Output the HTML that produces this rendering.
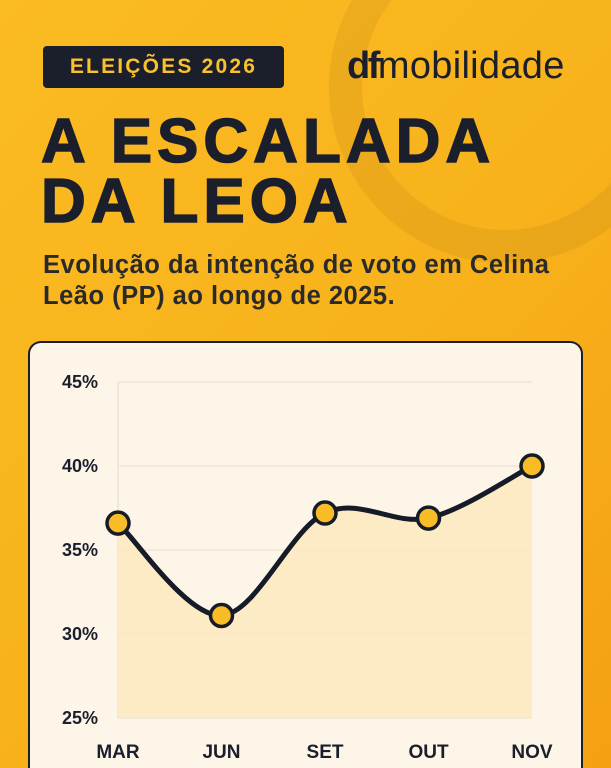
<!DOCTYPE html>
<html><head><meta charset="utf-8">
<style>
*{margin:0;padding:0;box-sizing:border-box}
html,body{width:611px;height:768px;overflow:hidden}
body{font-family:"Liberation Sans",sans-serif}
.wrap{position:absolute;left:0;top:0;width:611px;height:768px;overflow:hidden;background:linear-gradient(135deg,#fbbb22 0%,#f8b31c 50%,#f4a012 100%)}
.ring{position:absolute;left:329px;top:-89px;width:352px;height:352px;border-radius:50%;border:33px solid rgba(180,120,20,0.18)}
.badge{position:absolute;left:43px;top:46px;width:241px;height:42px;background:#1b1f2c;border-radius:4px;color:#f9c12c;font-weight:bold;font-size:21px;letter-spacing:2.2px;line-height:42px;text-align:center}
.logo{position:absolute;left:347px;top:45px;font-size:38px;color:#1b1f2c;letter-spacing:0.3px}
.logo b{font-weight:900;letter-spacing:-2.5px}
.title{position:absolute;left:41px;top:112px;font-size:62px;font-weight:bold;color:#1b1f2c;line-height:60px;letter-spacing:5px;-webkit-text-stroke:1.5px #1b1f2c}
.sub{position:absolute;left:43px;top:250px;font-size:25.5px;font-weight:bold;color:#2a2a2a;line-height:31px;width:580px;letter-spacing:0.5px}
.card{position:absolute;left:28px;top:341px;width:555px;height:450px;background:#fdf6e8;border:2.5px solid #1b1f2c;border-radius:13px}
svg{position:absolute;left:0;top:0}
</style></head>
<body>
<div class="wrap">
<div class="ring"></div>
<div class="badge">ELEIÇÕES 2026</div>
<div class="logo"><b>df</b>mobilidade</div>
<div class="title">A ESCALADA<br>DA LEOA</div>
<div class="sub">Evolução da intenção de voto em Celina<br>Leão (PP) ao longo de 2025.</div>
<div class="card"></div>
<svg id="chart" width="611" height="768"></svg>
</div>
<script>
const categories=["MAR","JUN","SET","OUT","NOV"];
const values=[36.6,31.1,37.2,36.9,40.0];
const yTicks=[25,30,35,40,45];
const yTickLabels=["25%","30%","35%","40%","45%"];
const NS="http://www.w3.org/2000/svg";
const svg=document.getElementById("chart");
const x0=118,x1=532,yTop=382,yBot=718;
function xs(i){return x0+(x1-x0)*i/(categories.length-1);}
function ys(v){return yBot-(v-25)/(45-25)*(yBot-yTop);}
function mk(t,a){const e=document.createElementNS(NS,t);for(const k in a)e.setAttribute(k,a[k]);svg.appendChild(e);return e;}
let ax=mk("line",{x1:x0,y1:yTop,x2:x0,y2:yBot,stroke:"#ece3d2","stroke-width":1.5});


yTicks.forEach((t,i)=>{
 const g=mk("line",{x1:x0,y1:ys(t),x2:x1,y2:ys(t),stroke:"#efe6d4","stroke-width":1.5});
 
 
 const l=mk("text",{x:98,y:ys(t)+6,"text-anchor":"end","font-size":18,"font-weight":"bold",fill:"#1b1f2c","font-family":"Liberation Sans, sans-serif"});
 l.textContent=yTickLabels[i];
 
 
});
categories.forEach((c,i)=>{
 const l=mk("text",{x:xs(i),y:758,"text-anchor":"middle","font-size":19,"font-weight":"bold",fill:"#1b1f2c","font-family":"Liberation Sans, sans-serif"});
 l.textContent=c;
 
 
});
const pts=values.map((v,i)=>[xs(i),ys(v)]);
let d="M"+pts[0][0]+","+pts[0][1];
for(let i=0;i<pts.length-1;i++){
 const p0=pts[i-1]||pts[i],p1=pts[i],p2=pts[i+1],p3=pts[i+2]||p2;
 const c1=[p1[0]+(p2[0]-p0[0])/6,p1[1]+(p2[1]-p0[1])/6];
 const c2=[p2[0]-(p3[0]-p1[0])/6,p2[1]-(p3[1]-p1[1])/6];
 d+=" C"+c1+" "+c2+" "+p2;
}
const area=mk("path",{d:d+" L"+pts[pts.length-1][0]+","+yBot+" L"+pts[0][0]+","+yBot+" Z",fill:"#fce9bd","fill-opacity":0.8});


const line=mk("path",{d:d,fill:"none",stroke:"#161b28","stroke-width":5,"stroke-linecap":"round"});


pts.forEach((p,i)=>{
 const c=mk("circle",{cx:p[0],cy:p[1],r:11,fill:"#f8bc26",stroke:"#161b28","stroke-width":3.5});
 
 
});
</script>
</body></html>
